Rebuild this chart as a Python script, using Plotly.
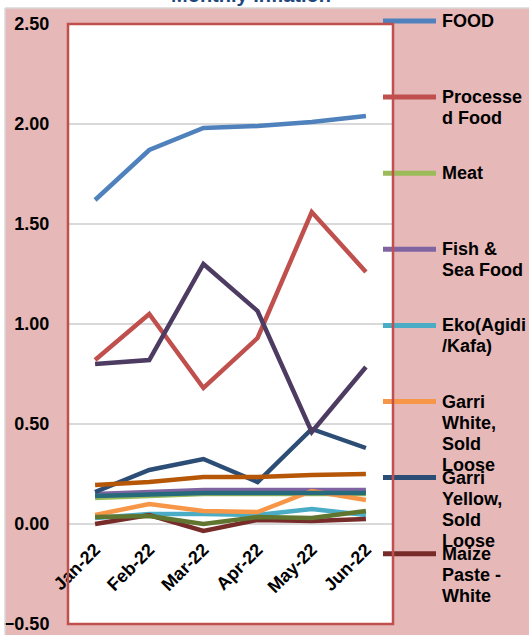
import plotly.graph_objects as go

# ---- data -------------------------------------------------------------
months = ["Jan-22", "Feb-22", "Mar-22", "Apr-22", "May-22", "Jun-22"]

food = [1.62, 1.87, 1.98, 1.99, 2.01, 2.04]
processed_food = [0.82, 1.05, 0.68, 0.93, 1.56, 1.26]
meat = [0.13, 0.14, 0.15, 0.15, 0.15, 0.15]
fish_sea_food = [0.15, 0.16, 0.17, 0.17, 0.17, 0.17]
eko = [0.03, 0.05, 0.05, 0.045, 0.075, 0.045]
garri_white = [0.045, 0.10, 0.065, 0.06, 0.165, 0.12]
garri_yellow = [0.16, 0.27, 0.325, 0.21, 0.475, 0.38]
maize_white = [0.0, 0.045, -0.035, 0.02, 0.015, 0.025]
maize_yellow = [0.035, 0.04, 0.0, 0.035, 0.03, 0.065]
rice_agric = [0.80, 0.82, 1.30, 1.065, 0.46, 0.785]
rice_local = [0.14, 0.15, 0.155, 0.155, 0.155, 0.155]
rice_medium = [0.195, 0.21, 0.235, 0.235, 0.245, 0.25]

series_names = [
    "FOOD", "Processed Food", "Meat", "Fish & Sea Food", "Eko(Agidi/Kafa)",
    "Garri White, Sold Loose", "Garri Yellow, Sold Loose", "Maize Paste - White",
    "Maize Paste - Yellow", "Rice Agric Sold Loose", "Rice Local Sold Loose",
    "Rice, Medium Grained",
]
series_values = [
    food, processed_food, meat, fish_sea_food, eko, garri_white, garri_yellow,
    maize_white, maize_yellow, rice_agric, rice_local, rice_medium,
]
series_colors = [
    "#4F81BD", "#C0504D", "#9BBB59", "#8064A2", "#4BACC6", "#F79646",
    "#2C4D75", "#772C2A", "#5F7530", "#4D3B62", "#276A7C", "#B65708",
]

# wrapped legend labels (only the first eight entries fit in the panel)
legend_lines = [
    ["FOOD"],
    ["Processe", "d Food"],
    ["Meat"],
    ["Fish &", "Sea Food"],
    ["Eko(Agidi", "/Kafa)"],
    ["Garri", "White,", "Sold", "Loose"],
    ["Garri", "Yellow,", "Sold", "Loose"],
    ["Maize", "Paste -", "White"],
]

y_ticks = [-0.5, 0.0, 0.5, 1.0, 1.5, 2.0, 2.5]
title_text = "Monthly Inflation"

# ---- layout geometry (pixels) ------------------------------------------
W, H = 529, 635
L, R, T, B = 68, 393, 24, 624
FONT = "Arial, Liberation Sans, sans-serif"
PINK = "#E6B9B8"


def fx(px):
    return (px - L) / (R - L)


def fy(py):
    return (B - py) / (B - T)


fig = go.Figure()
for name, vals, col in zip(series_names, series_values, series_colors):
    fig.add_trace(go.Scatter(
        x=months, y=vals, name=name, mode="lines",
        line=dict(color=col, width=4.5), showlegend=False,
    ))

shapes = [
    # white strips and grey frame around the chart panel
    dict(type="rect", xref="paper", yref="paper", x0=fx(-5), x1=fx(600),
         y0=fy(8), y1=fy(-5), fillcolor="white", line_width=0, layer="below"),
    dict(type="rect", xref="paper", yref="paper", x0=fx(-5), x1=fx(5),
         y0=fy(700), y1=fy(-5), fillcolor="white", line_width=0, layer="below"),
    dict(type="line", xref="paper", yref="paper", x0=fx(5), x1=fx(600),
         y0=fy(8), y1=fy(8), line=dict(color="#D9D9D9", width=1.5)),
    dict(type="line", xref="paper", yref="paper", x0=fx(5), x1=fx(5),
         y0=fy(8), y1=fy(700), line=dict(color="#D9D9D9", width=1.5)),
]

# chart title sits above the top edge of the panel
annotations = [
    dict(text=title_text, xref="paper", yref="paper", x=fx(251), y=fy(8),
         xanchor="center", yanchor="bottom", showarrow=False,
         font=dict(family=FONT, size=20, color="#1F497D", weight="bold")),
]

# hand-laid legend on the right of the plot area
for i, lines in enumerate(legend_lines):
    ky = 21 + 76.1 * i
    shapes.append(dict(type="line", xref="paper", yref="paper",
                       x0=fx(383), x1=fx(436), y0=fy(ky), y1=fy(ky),
                       line=dict(color=series_colors[i], width=5)))
    for j, t in enumerate(lines):
        annotations.append(dict(
            text=t, xref="paper", yref="paper", x=fx(440), y=fy(ky + 21 * j),
            xanchor="left", yanchor="middle", showarrow=False,
            font=dict(family=FONT, size=18, color="black", weight="bold"),
        ))

# plot-area border, drawn over the legend keys
shapes.append(dict(type="rect", xref="paper", yref="paper", x0=0, x1=1, y0=0, y1=1,
                   line=dict(color="#C0504D", width=2.5), layer="above"))

# x axis crosses the value axis at zero
zero_pos = (0 - y_ticks[0]) / (y_ticks[-1] - y_ticks[0])

fig.update_layout(
    width=W, height=H,
    margin=dict(l=L, r=W - R, t=T, b=H - B, pad=0, autoexpand=False),
    paper_bgcolor=PINK, plot_bgcolor="white",
    font=dict(family=FONT, size=18, color="black", weight="bold"),
    shapes=shapes, annotations=annotations,
    xaxis=dict(
        type="category", range=[-0.5, 5.5], anchor="free", position=zero_pos,
        automargin=False,
        showgrid=False, showline=False, zeroline=False,
        tickangle=-45, ticks="outside", ticklen=7, tickcolor="rgba(0,0,0,0)",
        tickfont=dict(family=FONT, size=18, color="black", weight="bold"),
    ),
    yaxis=dict(
        range=[y_ticks[0], y_ticks[-1]], tickvals=y_ticks, tickformat=".2f",
        automargin=False,
        showgrid=True, gridcolor="#D9D9D9", gridwidth=1.5,
        zeroline=True, zerolinecolor="#D9D9D9", zerolinewidth=2,
        showline=False, ticks="outside", ticklen=14, tickcolor="rgba(0,0,0,0)",
        tickfont=dict(family=FONT, size=18, color="black", weight="bold"),
    ),
)

fig.write_html("out.html")
